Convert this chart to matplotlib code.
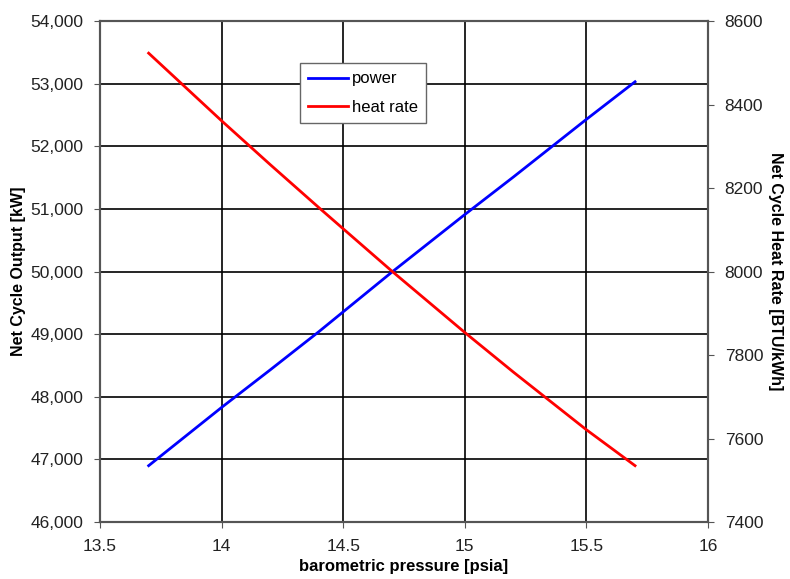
import matplotlib
matplotlib.use('Agg')
import matplotlib.pyplot as plt
from matplotlib.ticker import FuncFormatter

plt.rcParams['font.family'] = ['Liberation Sans', 'DejaVu Sans']

pressure = [13.7, 14.0, 14.2, 14.4, 14.7, 15.0, 15.2, 15.5, 15.7]
power = [46900, 47830, 48430, 49040, 49990, 50910, 51510, 52430, 53030]
heat_rate = [8523, 8361, 8256, 8153, 8001, 7854, 7759, 7621, 7535]

x_ticks = [13.5, 14, 14.5, 15, 15.5, 16]
x_labels = ['13.5', '14', '14.5', '15', '15.5', '16']

fig = plt.figure(figsize=(7.9, 5.79), dpi=100)
ax = fig.add_axes([0.1266, 0.0984, 0.7696, 0.8653])
ax2 = ax.twinx()

l1, = ax.plot(pressure, power, color='#0000ff', lw=2, label='power')
l2, = ax2.plot(pressure, heat_rate, color='#ff0000', lw=2, label='heat rate')

ax.set_xlim(13.5, 16)
ax.set_ylim(46000, 54000)
ax2.set_ylim(7400, 8600)
ax.set_xticks(x_ticks)
ax.set_xticklabels(x_labels)
ax.set_yticks(range(46000, 54001, 1000))
ax.yaxis.set_major_formatter(FuncFormatter(lambda v, p: f'{int(v):,}'))
ax2.set_yticks(range(7400, 8601, 200))

ax.grid(True, color='black', lw=1.2)
ax.set_axisbelow(True)
for a in (ax, ax2):
    for s in a.spines.values():
        s.set_color('#555555')
        s.set_linewidth(1.5)
    a.tick_params(labelsize=12.5, length=4, pad=8, color='#555555', colors='#222222')

ax.set_xlabel('barometric pressure [psia]', fontsize=12, fontweight='bold', labelpad=4)
ax.set_ylabel('Net Cycle Output [kW]', fontsize=11.5, fontweight='bold', labelpad=3)
ax2.set_ylabel('Net Cycle Heat Rate [BTU/kWh]', fontsize=11.5, fontweight='bold',
               rotation=270, labelpad=14)

leg = ax2.legend(handles=[l1, l2], loc='upper left', bbox_to_anchor=(0.329, 0.916),
                 fontsize=12, frameon=True, fancybox=False, framealpha=1,
                 edgecolor='#666666', handlelength=2.4, handletextpad=0.2,
                 borderaxespad=0, borderpad=0.5, labelspacing=0.8)
leg.get_frame().set_linewidth(1)

fig.savefig('out.png', dpi=100)
